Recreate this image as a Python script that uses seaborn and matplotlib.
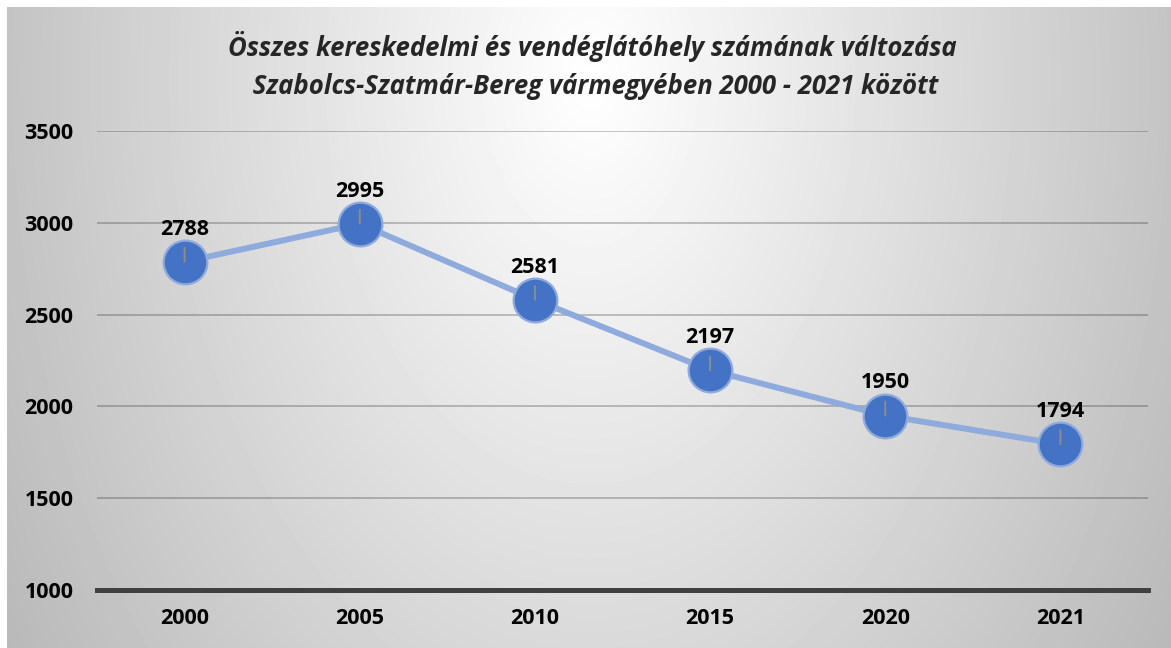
import numpy as np
import matplotlib
matplotlib.use("Agg")
import matplotlib.pyplot as plt
import seaborn as sns
import pandas as pd

# chart data
years = ["2000", "2005", "2010", "2015", "2020", "2021"]
counts = [2788, 2995, 2581, 2197, 1950, 1794]
y_ticks = [1000, 1500, 2000, 2500, 3000, 3500]
title_lines = [
    "Összes kereskedelmi és vendéglátóhely számának változása",
    " Szabolcs-Szatmár-Bereg vármegyében 2000 - 2021 között",
]

sns.set_theme(style="white")
plt.rcParams['font.family'] = ['Open Sans', 'DejaVu Sans']

W, H = 1171, 648
fig = plt.figure(figsize=(W / 100, H / 100), dpi=100)
fig.patch.set_facecolor("white")

# radial grey gradient behind the chart
bg = fig.add_axes([7 / W, 0, 1 - 7 / W, 1 - 7 / H], zorder=-10)
gx, gy = np.meshgrid(np.arange(7, W), np.arange(7, H))
r = np.sqrt(((gx - 590) / 590.0) ** 2 + ((gy - 80) / 900.0) ** 2)
shade = np.clip(255 - 60 * r, 180, 255) / 255.0
bg.imshow(shade, cmap="gray", vmin=0, vmax=1, aspect="auto",
          interpolation="bilinear")
bg.set_axis_off()

ax = fig.add_axes([97 / W, 1 - 590 / H, (1148 - 97) / W, (590 - 131) / H])
ax.set_facecolor("none")

df = pd.DataFrame({"year": years, "count": counts})
sns.lineplot(data=df, x="year", y="count", ax=ax, color="#8FAADC",
             linewidth=4.3, marker="o", markersize=31.5,
             markerfacecolor="#4472C4", markeredgecolor="#8FAADC",
             markeredgewidth=1.6, zorder=3)

for i, v in enumerate(counts):
    ax.annotate("", xy=(i, v), xytext=(0, 10), textcoords="offset points",
                arrowprops=dict(arrowstyle="-", color="#8c8c8c", lw=1.4,
                                shrinkA=0, shrinkB=0), zorder=4)
    ax.annotate(str(v), xy=(i, v), xytext=(0, 23.5), textcoords="offset points",
                ha="center", va="center", fontsize=15.5, fontweight="bold",
                color="black", zorder=5)

ax.set_xlim(-0.5, len(years) - 0.5)
ax.set_ylim(1000, 3500)
ax.set_yticks(y_ticks)
ax.set_yticklabels([str(t) for t in y_ticks])
ax.yaxis.grid(True, color="black", alpha=0.24, linewidth=1.3)
ax.set_axisbelow(True)
for side in ["top", "right", "left"]:
    ax.spines[side].set_visible(False)
ax.spines["bottom"].set_color("#404040")
ax.spines["bottom"].set_linewidth(3.6)
ax.spines["bottom"].set_zorder(2)
ax.tick_params(axis="both", length=0, labelsize=15.5, colors="black")
ax.tick_params(axis="y", pad=17)
ax.tick_params(axis="x", pad=13)
for lab in ax.get_xticklabels() + ax.get_yticklabels():
    lab.set_fontweight("bold")
ax.set_xlabel("")
ax.set_ylabel("")

fig.text(0.506, 1 - 46 / H, title_lines[0], ha="center", va="center",
         fontsize=18.5, fontweight="bold", fontstyle="italic")
fig.text(0.506, 1 - 86 / H, title_lines[1], ha="center", va="center",
         fontsize=18.5, fontweight="bold", fontstyle="italic")

fig.savefig("out.png", dpi=100)
